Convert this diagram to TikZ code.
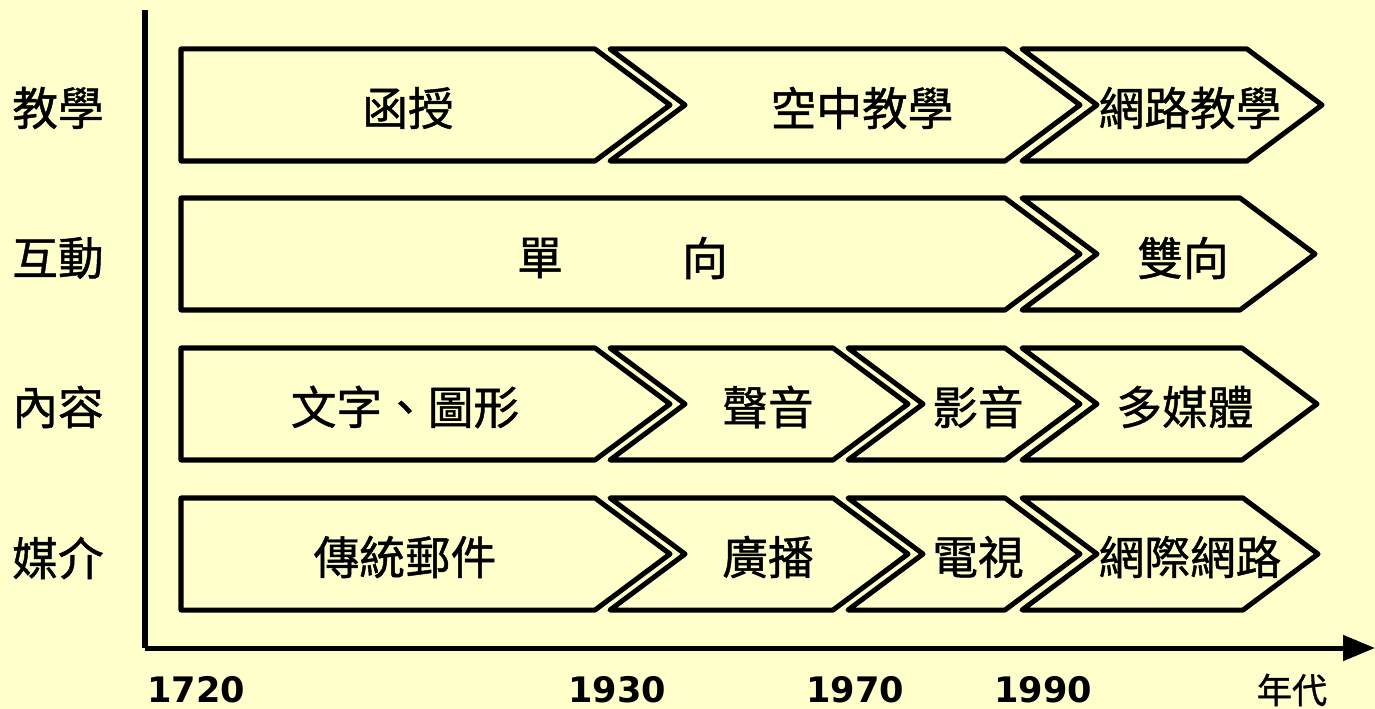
\documentclass[tikz,border=0pt]{standalone}
\usepackage{fontspec}
\setmainfont{Liberation Sans}
\newfontfamily\cjk[FakeBold=1]{Noto Sans CJK TC}
\newfontfamily\yrfont{DejaVu Sans}
\usetikzlibrary{arrows.meta}
\definecolor{paleyellow}{HTML}{FFFFCC}
\tikzset{
	chev/.style={line width=2.85pt, line join=round, fill=paleyellow},
	lbl/.style={font=\cjk\fontsize{26}{26}\selectfont, inner sep=0pt},
	yr/.style={font=\yrfont\bfseries\fontsize{20}{20}\selectfont, inner sep=0pt},
	axis/.style={line width=2.85pt},
}
% flat left end: x1, x2, y mid
\newcommand{\chevflat}[3]{%
	\draw[chev] (#1,#3-56) -- (#2,#3-56) -- (#2+75,#3) -- (#2,#3+56) -- (#1,#3+56) -- cycle;}
% notched left end: x1, x2, y mid
\newcommand{\chevnotch}[3]{%
	\draw[chev] (#1,#3-56) -- (#2,#3-56) -- (#2+75,#3) -- (#2,#3+56) -- (#1,#3+56) -- (#1+75,#3) -- cycle;}

\begin{document}
\begin{tikzpicture}[x=0.02cm, y=-0.02cm]
			% background
			\fill[paleyellow] (0,0) rectangle (1375,709);
			\useasboundingbox (0,0) rectangle (1375,709);
			% axes
			\coordinate (top) at (145,10);
			\coordinate (origin) at (145,648);
			\coordinate (end) at (1375,648);
			\draw[axis] (top) -- (origin);
			\draw[axis, -{Triangle[length=0.64cm, width=0.5cm]}] (origin) -- (end);
			% row labels
			\node[lbl] (teach) at (58,108) {教學};
			\node[lbl] (inter) at (58,258) {互動};
			\node[lbl] (content) at (58,407) {內容};
			\node[lbl] (media) at (58,558) {媒介};
			% teaching
			\chevflat{181}{595}{105}
			\chevnotch{610}{1005}{105}
			\chevnotch{1022}{1247}{105}
			\node[lbl] (corr) at (408,108) {函授};
			\node[lbl] (air) at (862,108) {空中教學};
			\node[lbl] (web) at (1190,108) {網路教學};
			% interaction
			\chevflat{181}{1005}{254}
			\chevnotch{1022}{1240}{254}
			\node[lbl] (one) at (540,258) {單};
			\node[lbl] (way) at (705,258) {向};
			\node[lbl] (two) at (1183,258) {雙向};
			% content
			\chevflat{181}{595}{404}
			\chevnotch{610}{833}{404}
			\chevnotch{848}{1005}{404}
			\chevnotch{1022}{1242}{404}
			\node[lbl] (text) at (405,407) {文字、圖形};
			\node[lbl] (sound) at (768,407) {聲音};
			\node[lbl] (video) at (978,407) {影音};
			\node[lbl] (multi) at (1185,407) {多媒體};
			% media
			\chevflat{181}{595}{554}
			\chevnotch{610}{833}{554}
			\chevnotch{848}{1005}{554}
			\chevnotch{1022}{1243}{554}
			\node[lbl] (mail) at (405,557) {傳統郵件};
			\node[lbl] (radio) at (768,557) {廣播};
			\node[lbl] (tv) at (978,557) {電視};
			\node[lbl] (net) at (1190,557) {網際網路};
			% years
			\node[yr] (y1720) at (196,690) {1720};
			\node[yr] (y1930) at (617,690) {1930};
			\node[yr] (y1970) at (855,690) {1970};
			\node[yr] (y1990) at (1043,690) {1990};
			\node[font=\cjk\fontsize{20}{20}\selectfont, inner sep=0pt] (era) at (1292,690) {年代};
		\end{tikzpicture}
\end{document}
